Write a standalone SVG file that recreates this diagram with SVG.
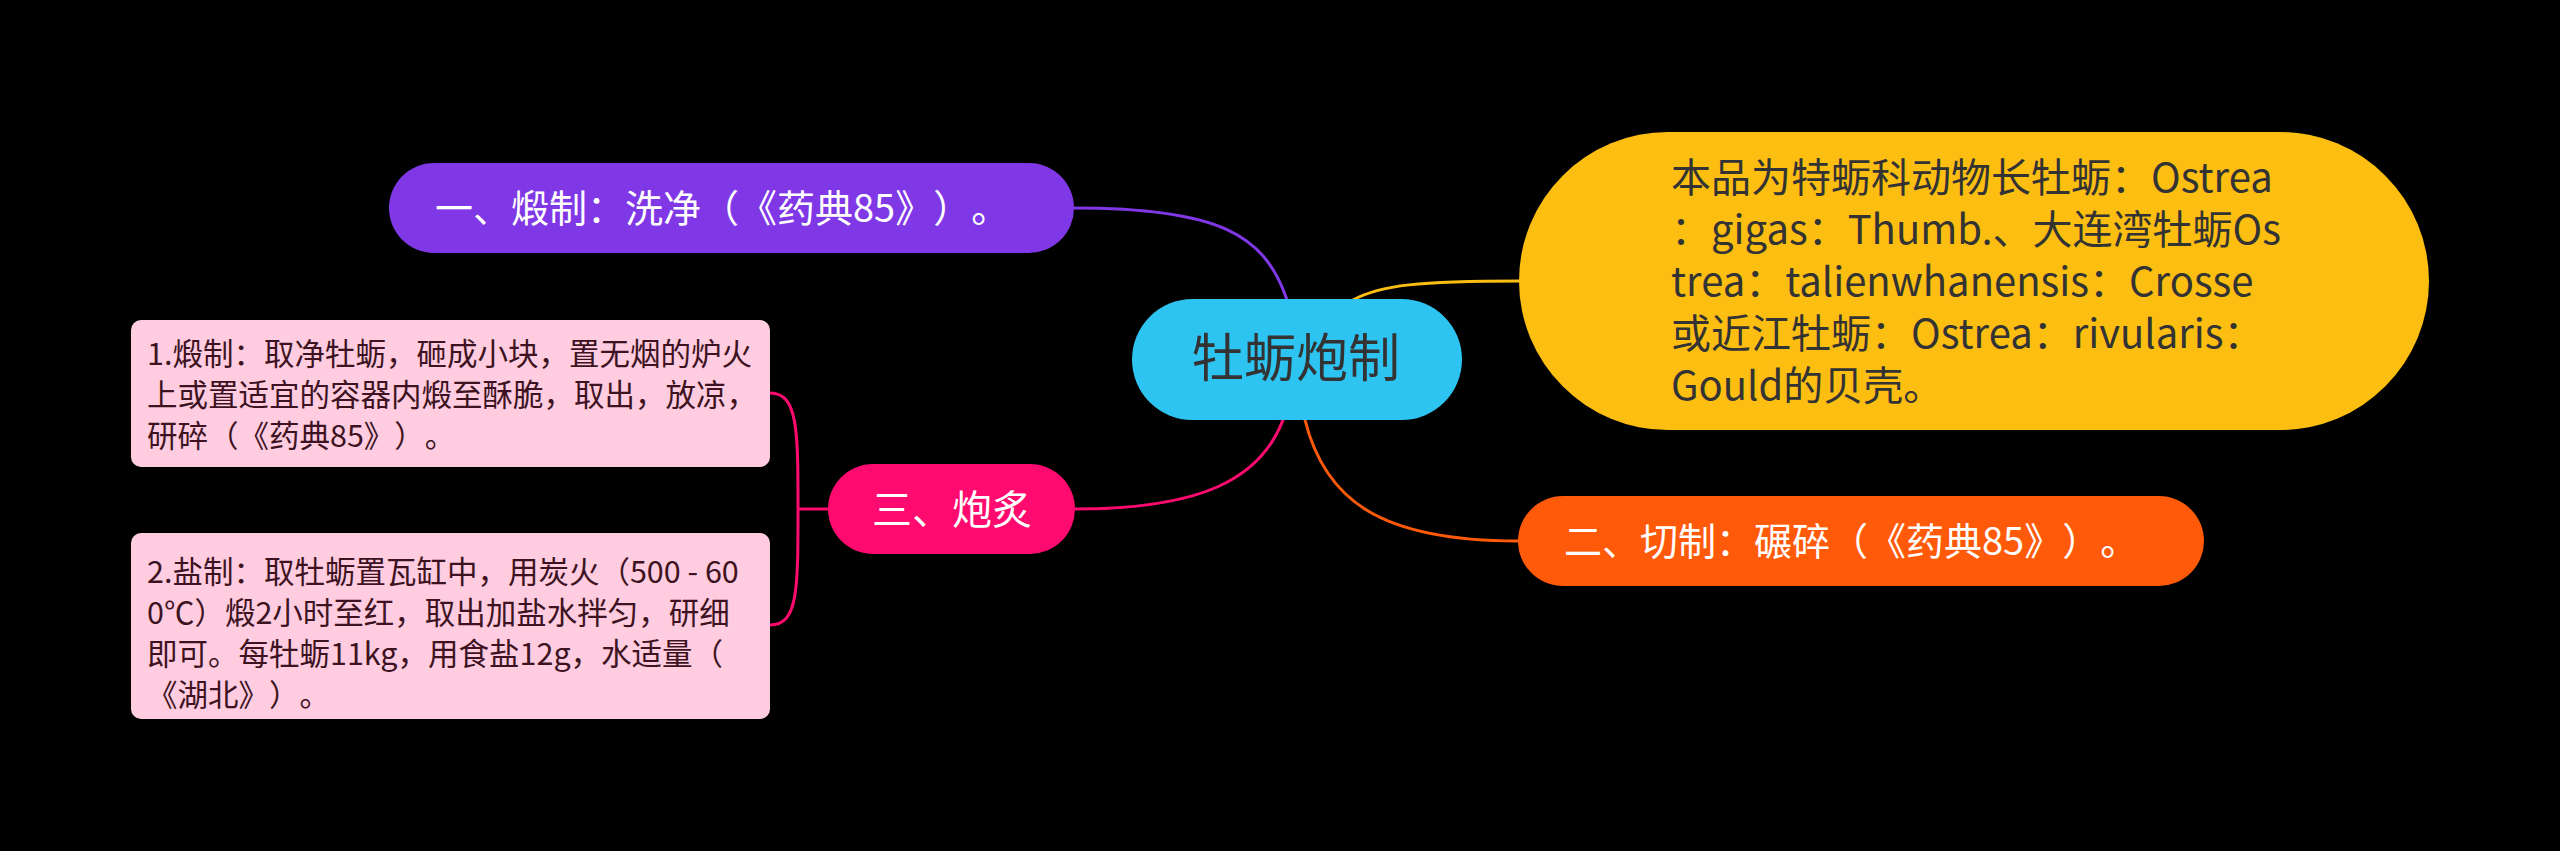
<svg xmlns="http://www.w3.org/2000/svg" width="2560" height="851" viewBox="0 0 2560 851">
<style>
text{font-family:"Noto Sans CJK SC","Noto Sans",sans-serif;text-spacing-trim:space-all;}
.conn{fill:none;stroke-width:3;stroke-linecap:round;}
.t1{font-size:40px;}
.t2{font-size:38px;}
.white{fill:#ffffff;}
.dark{fill:#333333;}
.sub{font-size:30.5px;fill:#3d1322;}
</style>
<rect x="0" y="0" width="2560" height="851" fill="#000000"/>
<g id="connectors">
<path class="conn" stroke="#8038E6" d="M1287,300 C1265,235 1220,208 1074,208"/>
<path class="conn" stroke="#FDBE12" d="M1353,300 C1380,285 1420,281 1520,281"/>
<path class="conn" stroke="#FF5A0A" d="M1305,420 C1325,500 1380,541 1518,541"/>
<path class="conn" stroke="#FF0A6E" d="M1283,420 C1260,480 1200,509 1075,509"/>
<path class="conn" stroke="#FF0A6E" d="M770,393 C798,393 798,430 798,509 M770,625 C798,625 798,590 798,509 M798,509 L828,509"/>
</g>
<g id="center">
<rect x="1132" y="299" width="330" height="121" rx="60.5" fill="#2EC4F2"/>
<text x="1296" y="377" font-size="52" text-anchor="middle" class="dark">牡蛎炮制</text>
</g>
<g id="node-1">
<rect x="389" y="163" width="685" height="90" rx="45" fill="#8038E6"/>
<text x="435" y="222" class="t2 white">一、煅制：洗净（《药典85》）。</text>
</g>
<g id="node-yellow">
<rect x="1519" y="132" width="910" height="298" rx="149" fill="#FDBE12"/>
<text class="t1 dark">
<tspan x="1671" y="192">本品为特蛎科动物长牡蛎：Ostrea</tspan>
<tspan x="1671" y="244">：gigas：Thumb.、大连湾牡蛎Os</tspan>
<tspan x="1671" y="296">trea：talienwhanensis：Crosse</tspan>
<tspan x="1671" y="348">或近江牡蛎：Ostrea：rivularis：</tspan>
<tspan x="1671" y="400">Gould的贝壳。</tspan>
</text>
</g>
<g id="node-2">
<rect x="1518" y="496" width="686" height="90" rx="45" fill="#FF5A0A"/>
<text x="1564" y="555" class="t2 white">二、切制：碾碎（《药典85》）。</text>
</g>
<g id="node-3">
<rect x="828" y="464" width="247" height="90" rx="45" fill="#FF0A6E"/>
<text x="872" y="524" class="t1 white">三、炮炙</text>
</g>
<g id="sub-1">
<rect x="131" y="320" width="639" height="147" rx="10" fill="#FFCCE0"/>
<text class="sub">
<tspan x="147" y="365">1.煅制：取净牡蛎，砸成小块，置无烟的炉火</tspan>
<tspan x="147" y="406">上或置适宜的容器内煅至酥脆，取出，放凉，</tspan>
<tspan x="147" y="447">研碎（《药典85》）。</tspan>
</text>
</g>
<g id="sub-2">
<rect x="131" y="533" width="639" height="186" rx="10" fill="#FFCCE0"/>
<text class="sub">
<tspan x="147" y="583">2.盐制：取牡蛎置瓦缸中，用炭火（500 - 60</tspan>
<tspan x="147" y="624">0℃）煅2小时至红，取出加盐水拌匀，研细</tspan>
<tspan x="147" y="665">即可。每牡蛎11kg，用食盐12g，水适量（</tspan>
<tspan x="147" y="706">《湖北》）。</tspan>
</text>
</g>
</svg>
